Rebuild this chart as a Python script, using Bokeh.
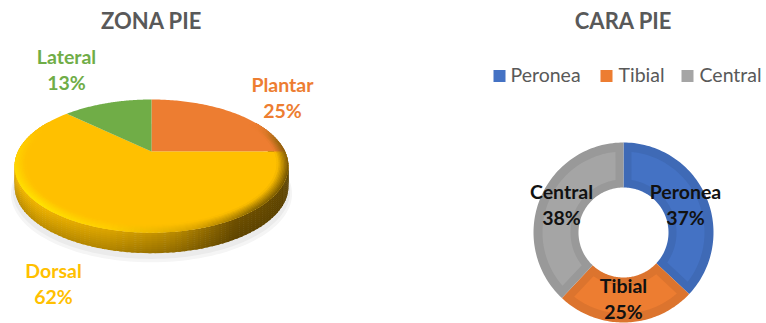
import numpy as np
from bokeh.core.properties import value
from bokeh.embed import file_html
from bokeh.models import Range1d
from bokeh.plotting import figure
from bokeh.resources import INLINE

# Foot-lesion location shares
zona_names = ["Plantar", "Dorsal", "Lateral"]
zona_values = [25, 62, 13]
zona_colors = ["#ED7D31", "#FFC000", "#70AD47"]

cara_names = ["Peronea", "Tibial", "Central"]
cara_values = [37, 25, 38]
cara_colors = ["#4472C4", "#ED7D31", "#A5A5A5"]

FONT = "Lato"
W, H = 766, 323

p = figure(width=W, height=H, output_backend="svg", toolbar_location=None,
           x_range=Range1d(0, W), y_range=Range1d(H, 0), min_border=0,
           outline_line_color=None, background_fill_color="white",
           border_fill_color="white")
p.axis.visible = False
p.grid.visible = False


def to_rgb(c):
    c = c.lstrip("#")
    return np.array([int(c[i:i + 2], 16) for i in (0, 2, 4)], dtype=float)


def to_hex(rgb):
    return "#%02x%02x%02x" % tuple(int(round(min(255, max(0, v)))) for v in rgb)


def mix(c1, c2, t):
    return c1 + (c2 - c1) * t


# Tilted disc: a circle seen in perspective, so the hub sits above the ellipse centre
CX, CY = 151.0, 151.0
BX, AY, KP = 133.6, 63.4, 0.219


def disc(theta_deg, radius=1.0, dy=0.0):
    t = np.radians(theta_deg)
    u, v = radius * np.sin(t), radius * np.cos(t)
    den = 1 + KP * v
    return CX + BX * u / den, CY - AY * v / den + dy


def interp_color(theta, stops):
    angles = [s[0] for s in stops]
    cols = np.array([to_rgb(s[1]) for s in stops])
    return np.array([np.interp(theta, angles, cols[:, i]) for i in range(3)])


STEP = 2.0


def ring_quads(th, r0, d0, r1, d1):
    # each quad runs slightly past the next one so no seam shows between them
    xa0, ya0 = disc(th, r0, d0)
    xa1, ya1 = disc(th + STEP + 1.0, r0, d0)
    xb1, yb1 = disc(th + STEP + 1.0, r1, d1)
    xb0, yb0 = disc(th, r1, d1)
    return [xa0, xa1, xb1, xb0], [ya0, ya1, yb1, yb0]


# Soft ground shadow under the disc
ring = np.linspace(0, 360, 181)
for grow, drop, col in [(1.025, 27, "#f5f5f5"), (1.012, 25, "#ebebeb")]:
    sx, sy = disc(ring, grow, drop)
    p.patch(sx, sy, fill_color=col, line_color=None)

# Side wall, shaded around the rim and from its top edge to the bottom edge
wall_top = [(60, "#5f4500"), (110, "#5f4500"), (150, "#6f5000"), (172, "#b98a00"),
            (195, "#dca500"), (225, "#f0b400"), (255, "#f0b600"), (300, "#e0a800")]
wall_bot = [(60, "#5a4100"), (110, "#5a4100"), (150, "#5f4500"), (172, "#8f6a00"),
            (195, "#b08400"), (225, "#bd8e00"), (255, "#b88900"), (300, "#a88000")]
xs, ys, cs = [], [], []
depth = 20.0
levels = 10
for i in range(levels):
    d0 = depth * (1 - i / levels)
    d1 = depth * (1 - (i + 1) / levels)
    s = (i + 0.5) / levels
    for th in np.arange(60, 300, STEP):
        qx, qy = ring_quads(th, 1.0, d0 + 0.5, 1.0, d1)
        col = mix(interp_color(th + 1, wall_bot), interp_color(th + 1, wall_top), s)
        xs.append(qx), ys.append(qy), cs.append(to_hex(col))
p.patches(xs, ys, fill_color=cs, line_color=None)

# Flat top face, one slice per value, clockwise from twelve o'clock
edges = np.concatenate([[0], np.cumsum(zona_values)]) / np.sum(zona_values) * 360
for start, end, col in zip(edges[:-1], edges[1:], zona_colors):
    arc = np.linspace(start, end, 90)
    ax, ay = disc(arc)
    p.patch(np.r_[CX, ax], np.r_[CY, ay], fill_color=col, line_color=None)


def slice_color(theta):
    for start, end, col in zip(edges[:-1], edges[1:], zona_colors):
        if start <= theta % 360 < end:
            return to_rgb(col)
    return to_rgb(zona_colors[-1])


# Bevel between the flat face and the side wall, drawn outermost ring first
bevel = [(60, "#ED7D31"), (75, "#9a6a10"), (110, "#6f5000"), (140, "#806000"),
         (165, "#d8a200"), (195, "#ffd000"), (225, "#ffe600"), (255, "#ffda00"),
         (280, "#ffcc00"), (300, "#FFC000")]
weight = [(60, 0.0), (80, 1.0), (280, 1.0), (300, 0.0)]
xs, ys, cs = [], [], []
levels = 8
inner = 0.92
for i in range(levels):
    r0 = 1 - (1 - inner) * i / levels
    r1 = 1 - (1 - inner) * (i + 1) / levels
    fade = 1 - (i + 0.5) / levels
    for th in np.arange(60, 300, STEP):
        qx, qy = ring_quads(th, r0, 0, r1 - 0.004, 0)
        w = np.interp(th + 1, [q[0] for q in weight], [q[1] for q in weight])
        col = mix(slice_color(th + 1), interp_color(th + 1, bevel), w * fade)
        xs.append(qx), ys.append(qy), cs.append(to_hex(col))
p.patches(xs, ys, fill_color=cs, line_color=None)

# Doughnut with an inset bevel on every segment
DX, DY = 623.0, 232.0
R_OUT, R_IN, INSET = 90.0, 45.0, 8.0


def sector(start, end, r0, r1, gap=0.0):
    a0 = np.linspace(start + np.degrees(gap / r1), end - np.degrees(gap / r1), 80)
    a1 = np.linspace(end - np.degrees(gap / r0), start + np.degrees(gap / r0), 80)
    r = np.r_[np.full(80, r1), np.full(80, r0)]
    t = np.radians(np.r_[a0, a1])
    return DX + r * np.sin(t), DY - r * np.cos(t)


cara_edges = np.concatenate([[0], np.cumsum(cara_values)]) / np.sum(cara_values) * 360
for start, end, col in zip(cara_edges[:-1], cara_edges[1:], cara_colors):
    ox, oy = sector(start, end, R_IN, R_OUT)
    p.patch(ox, oy, fill_color=to_hex(to_rgb(col) * 0.93), line_color=None)
    ix, iy = sector(start, end, R_IN + INSET, R_OUT - INSET - 1, INSET)
    p.patch(ix, iy, fill_color=col, line_color=None)


def label(x, y, texts, color, size, style="bold"):
    p.text(x=x, y=y, text=texts, text_color=color, text_font=value(FONT),
           text_font_size=size, text_font_style=style,
           text_align="center", text_baseline="middle")


# Titles
label([151, 623], [20, 20], ["ZONA PIE", "CARA PIE"], "#595959", "22px")

# Pie data labels, in the colour of their slices
zona_lx = [282, 53, 66]
zona_ly = [83.5, 269.5, 55.5]
for name, val, col, lx, ly in zip(zona_names, zona_values, zona_colors, zona_lx, zona_ly):
    label([lx, lx], [ly, ly + 26], [name, f"{val}%"], col, "19.5px")

# Doughnut data labels
cara_lx = [685, 623, 561]
cara_ly = [191, 285, 191]
for name, val, lx, ly in zip(cara_names, cara_values, cara_lx, cara_ly):
    label([lx, lx], [ly, ly + 25.5], [name, f"{val}%"], "#111111", "19.5px")

# Legend
key_x = [499, 606, 687]
text_x = [510, 618, 699]
p.scatter(key_x, [75.5] * 3, marker="square", size=12, fill_color=cara_colors, line_color=None)
p.text(x=text_x, y=[74] * 3, text=cara_names, text_color="#595959",
       text_font=value(FONT), text_font_size="19.5px",
       text_align="left", text_baseline="middle")

open("out.html", "w").write(file_html(p, INLINE))
